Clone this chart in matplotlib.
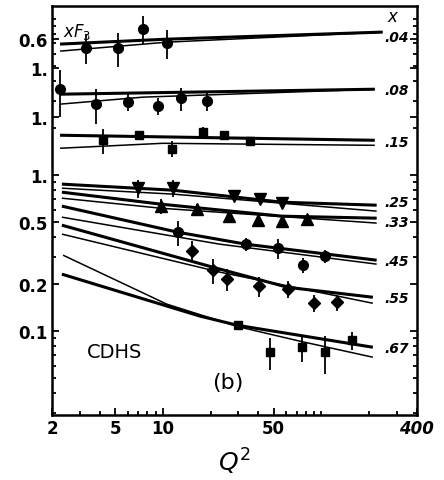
import matplotlib
matplotlib.use('Agg')
import matplotlib.pyplot as plt
from matplotlib.ticker import FixedLocator, NullFormatter, LogLocator

# x bins (label on the right) and the factor each bin is shifted by on the log axis
x_bins = ['.04', '.08', '.15', '.25', '.33', '.45', '.55', '.67']
shift = {'.04': 12.4, '.08': 4.85, '.15': 2.35}
# where each bin label sits (unshifted xF3 units)
label_y = [0.619, 0.724, 0.694, 0.671, 0.500, 0.281, 0.163, 0.0778]

# measured xF3 points: Q2, value, error
q2_04 = [3.3, 5.2, 7.5, 10.6]
f3_04 = [0.53, 0.53, 0.70, 0.57]
err_04 = [0.115, 0.13, 0.14, 0.12]

q2_08 = [2.25, 3.8, 6.0, 9.3, 13.0, 18.9]
f3_08 = [0.73, 0.59, 0.61, 0.57, 0.64, 0.62]
err_08 = [0.24, 0.15, 0.08, 0.07, 0.11, 0.09]

q2_15 = [4.2, 7.1, 11.4, 17.9, 24.3, 35.4]
f3_15 = [0.71, 0.77, 0.63, 0.80, 0.77, 0.70]
err_15 = [0.13, 0.04, 0.07, 0.07, 0.02, 0.03]

q2_25 = [7.0, 11.6, 28.0, 40.9, 56.3]
f3_25 = [0.825, 0.825, 0.733, 0.702, 0.662]
err_25 = [0.11, 0.10, 0.03, 0.03, 0.03]

q2_33 = [9.7, 16.4, 26.1, 39.7, 56.3, 80.9]
f3_33 = [0.633, 0.605, 0.546, 0.515, 0.507, 0.523]
err_33 = [0.07, 0.05, 0.02, 0.02, 0.02, 0.02]

q2_45 = [12.4, 33.4, 53.1, 76.3, 105]
f3_45 = [0.431, 0.361, 0.340, 0.265, 0.303]
err_45 = [0.08, 0.035, 0.05, 0.03, 0.03]

q2_55 = [15.2, 20.7, 25.3, 40.3, 61.4, 89.5, 125]
f3_55 = [0.326, 0.246, 0.216, 0.194, 0.186, 0.151, 0.153]
err_55 = [0.05, 0.045, 0.035, 0.028, 0.024, 0.019, 0.018]

q2_67 = [29.7, 47.3, 75.2, 105, 155]
f3_67 = [0.109, 0.0733, 0.0789, 0.0733, 0.0875]
err_67 = [0.005, 0.017, 0.015, 0.02, 0.012]

# QCD curves, two per bin (thick, thin)
cq_04a, cv_04a = [2.25, 10.6, 243], [0.558, 0.600, 0.666]
cq_04b, cv_04b = [2.25, 10.6, 243], [0.503, 0.574, 0.666]
cq_08a, cv_08a = [2.25, 217], [0.681, 0.733]
cq_08b, cv_08b = [2.25, 7.5, 217], [0.588, 0.652, 0.733]
cq_15a, cv_15a = [2.25, 217], [0.767, 0.712]
cq_15b, cv_15b = [2.25, 10.0, 217], [0.633, 0.681, 0.661]
cq_25a, cv_25a = [2.31, 11.6, 56.3, 223], [0.876, 0.801, 0.671, 0.642]
cq_25b, cv_25b = [2.31, 11.6, 223], [0.825, 0.756, 0.588]
cq_33a, cv_33a = [2.31, 9.7, 56.3, 223], [0.778, 0.652, 0.546, 0.530]
cq_33b, cv_33b = [2.31, 9.7, 223], [0.712, 0.614, 0.493]
cq_45a, cv_45a = [2.31, 12.4, 33.4, 223], [0.633, 0.431, 0.361, 0.285]
cq_45b, cv_45b = [2.31, 22.9, 223], [0.538, 0.361, 0.269]
cq_55a, cv_55a = [2.31, 20.7, 61.4, 211], [0.478, 0.257, 0.191, 0.165]
cq_55b, cv_55b = [2.31, 22.9, 211], [0.419, 0.239, 0.151]
cq_67a, cv_67a = [2.31, 17.1, 29.7, 211], [0.232, 0.125, 0.109, 0.0789]
cq_67b, cv_67b = [2.35, 10.6, 29.7, 73.1, 211], [0.307, 0.149, 0.107, 0.0863, 0.0681]

points = {
    '.04': (q2_04, f3_04, err_04),
    '.08': (q2_08, f3_08, err_08),
    '.15': (q2_15, f3_15, err_15),
    '.25': (q2_25, f3_25, err_25),
    '.33': (q2_33, f3_33, err_33),
    '.45': (q2_45, f3_45, err_45),
    '.55': (q2_55, f3_55, err_55),
    '.67': (q2_67, f3_67, err_67),
}
curves = {
    '.04': ((cq_04a, cv_04a), (cq_04b, cv_04b)),
    '.08': ((cq_08a, cv_08a), (cq_08b, cv_08b)),
    '.15': ((cq_15a, cv_15a), (cq_15b, cv_15b)),
    '.25': ((cq_25a, cv_25a), (cq_25b, cv_25b)),
    '.33': ((cq_33a, cv_33a), (cq_33b, cv_33b)),
    '.45': ((cq_45a, cv_45a), (cq_45b, cv_45b)),
    '.55': ((cq_55a, cv_55a), (cq_55b, cv_55b)),
    '.67': ((cq_67a, cv_67a), (cq_67b, cv_67b)),
}
markers = {'.04': ('o', 7), '.08': ('o', 7), '.15': ('s', 6), '.25': ('v', 8),
           '.33': ('^', 8), '.45': ('o', 7), '.55': ('D', 6), '.67': ('s', 6)}

fig = plt.figure(figsize=(4.44, 4.81), dpi=100)
ax = fig.add_axes([0.117, 0.135, 0.822, 0.850])
ax.set_xscale('log')
ax.set_yscale('log')

for b, ly in zip(x_bins, label_y):
    s = shift.get(b, 1.0)
    (qa, va), (qb, vb) = curves[b]
    ax.plot(qa, [v * s for v in va], color='black', lw=2.2, solid_capstyle='butt')
    ax.plot(qb, [v * s for v in vb], color='black', lw=1.1, solid_capstyle='butt')
    q, f, e = points[b]
    m, ms = markers[b]
    ax.errorbar(q, [v * s for v in f], yerr=[v * s for v in e], fmt=m, ms=ms,
                color='black', mec='black', elinewidth=1.3, capsize=0)
    ax.text(0.912, ly * s, b, transform=ax.get_yaxis_transform(), fontsize=10,
            fontstyle='italic', fontweight='bold', va='center', ha='left')

ax.set_xlim(2, 400)
ax.set_ylim(0.029, 12.1)

ax.xaxis.set_major_locator(FixedLocator([2, 5, 10, 50, 400]))
ax.xaxis.set_minor_locator(FixedLocator([3, 4, 6, 7, 8, 9, 20, 30, 40, 60, 70, 80, 90, 100, 200, 300]))
ax.set_xticklabels(['2', '5', '10', '50', '400'], fontsize=12, fontweight='bold')
ax.get_xticklabels()[-1].set_fontstyle('italic')
ax.xaxis.set_minor_formatter(NullFormatter())

ax.yaxis.set_major_locator(FixedLocator([0.1, 0.2, 0.5, 1.0, 1.0 * shift['.15'], 1.0 * shift['.08'], 0.6 * shift['.04']]))
ax.set_yticklabels(['0.1', '0.2', '0.5', '1.', '1.', '1.', '0.6'], fontsize=12, fontweight='bold')
ax.yaxis.set_minor_locator(LogLocator(subs='all', numticks=20))
ax.yaxis.set_minor_formatter(NullFormatter())

ax.tick_params(which='both', direction='in', right=True, top=False, width=1.3)
ax.tick_params(which='major', length=5, pad=3)
ax.tick_params(which='minor', length=3)
for sp in ax.spines.values():
    sp.set_linewidth(1.8)

ax.text(0.03, 0.965, r'$xF_3$', transform=ax.transAxes, fontsize=12, va='top', ha='left',
        family='serif')
ax.text(0.935, 0.995, r'$x$', transform=ax.transAxes, fontsize=12, va='top', ha='center',
        family='serif')
ax.text(0.095, 0.155, 'CDHS', transform=ax.transAxes, fontsize=14, va='center', ha='left')
ax.text(0.44, 0.08, '(b)', transform=ax.transAxes, fontsize=16, va='center', ha='left')
ax.set_xlabel(r'$Q^2$', fontsize=18, labelpad=6)

fig.savefig('out.png', dpi=100)
